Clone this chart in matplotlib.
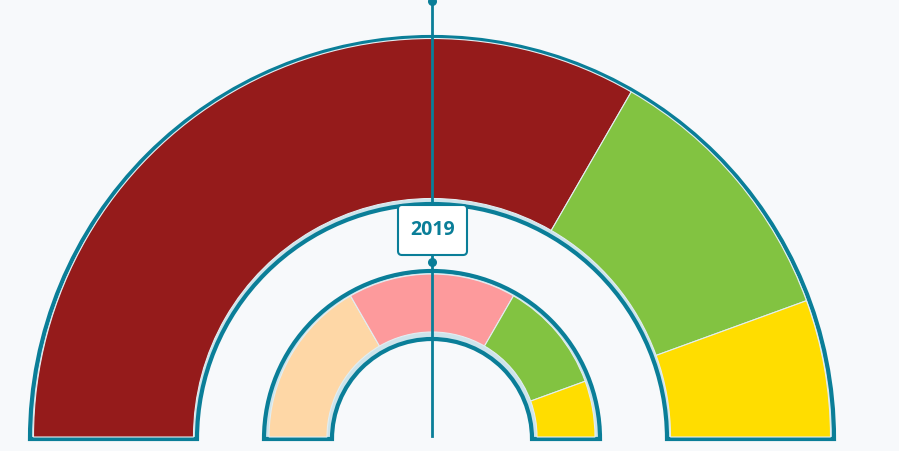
import matplotlib.pyplot as plt
from matplotlib.patches import Wedge, FancyBboxPatch

# data: two half-donut rings, values
outer_values = [6, 2, 1]
outer_colors = ['#951b1b', '#82c341', '#ffdd00']
inner_values = [3, 3, 2, 1]
inner_colors = ['#fed7a6', '#fd9a9c', '#82c341', '#ffdd00']
year_label = '2019'

teal = '#0a7e98'
band = '#cde4eb'
bg = '#f7f9fb'

W, H = 899, 451
fig = plt.figure(figsize=(W / 100, H / 100), dpi=100, facecolor=bg)
ax = fig.add_axes([0, 0, 1, 1])
ax.set_facecolor(bg)
ax.set_xlim(0, W)
ax.set_ylim(0, H)
ax.axis('off')

cx, cy = 432, H - 437


def ring(values, colors, r_out, r_in, inset):
    # background band with teal outline
    ax.add_patch(Wedge((cx, cy - 2), r_out + 2, 0, 180, width=r_out - r_in + 4,
                       facecolor=band, edgecolor=teal, linewidth=3, zorder=1))
    total = sum(values)
    start = 180.0
    for v, c in zip(values, colors):
        end = start - 180.0 * v / total
        ax.add_patch(Wedge((cx, cy), r_out - inset, end, start,
                           width=r_out - r_in - 2 * inset,
                           facecolor=c, edgecolor='#e3eef2', linewidth=0.8, zorder=2))
        start = end


ring(outer_values, outer_colors, 400, 237, 1.5)
ring(inner_values, inner_colors, 166, 102, 3)

# vertical marker line with dots
ax.plot([cx, cx], [H - 1, H - 436], color=teal, linewidth=2, zorder=5)
ax.scatter([cx, cx], [H - 1, H - 262], s=30, color=teal, zorder=6)

# year label box
box = FancyBboxPatch((398, H - 255), 69, 50, boxstyle='round,pad=0,rounding_size=4',
                     facecolor='white', edgecolor=teal, linewidth=1.5, zorder=7)
ax.add_patch(box)
ax.text(cx + 0.5, H - 230, year_label, color=teal, fontsize=14, fontweight='bold',
        family=['Open Sans', 'DejaVu Sans'], ha='center', va='center', zorder=8)

fig.savefig('out.png', dpi=100, facecolor=bg)
